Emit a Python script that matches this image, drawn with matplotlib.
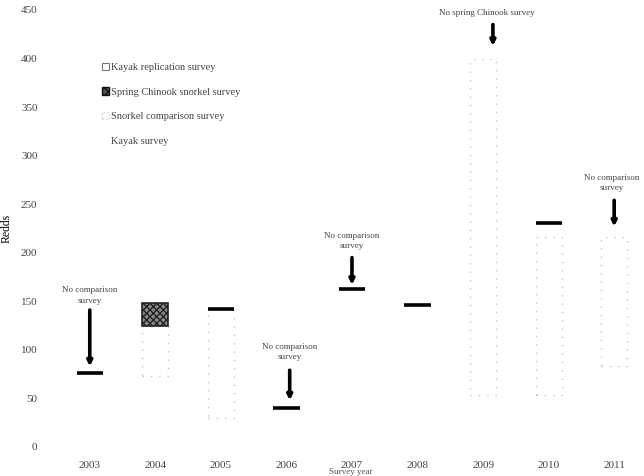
import numpy as np
import matplotlib
matplotlib.use("Agg")
from matplotlib import pyplot as plt
from matplotlib.patches import Patch

plt.rcParams['font.family'] = ['Liberation Serif', 'DejaVu Serif']

years = np.array([2003, 2004, 2005, 2006, 2007, 2008, 2009, 2010, 2011])
# kayak survey counts (nan = not shown)
kayak = np.array([76, np.nan, 142, 40, 163, 146, np.nan, 231, np.nan])
# snorkel comparison survey ranges (low, high)
comp_low = np.array([np.nan, 73, 30, np.nan, np.nan, np.nan, 53, 54, 83])
comp_high = np.array([np.nan, 125, 142, np.nan, np.nan, np.nan, 400, 216, 216])
# spring chinook snorkel survey (2004 only)
chinook_year = [2004]
chinook_low = [125]
chinook_high = [148]

notes = ["No comparison\nsurvey", "No comparison\nsurvey", "No comparison\nsurvey",
         "No spring Chinook survey", "No comparison\nsurvey"]
note_text_xy = [(2003, 156), (2006.05, 98), (2007, 212), (2009.06, 447), (2010.96, 272)]
note_arrow_from = [(2003, 141), (2006.05, 79), (2007, 195), (2009.15, 435), (2011.0, 254)]
note_arrow_to = [(2003, 83), (2006.05, 48), (2007, 167), (2009.15, 413), (2011.0, 227)]

fig = plt.figure(figsize=(6.44, 4.76), dpi=100)
ax = fig.add_axes([0.0885, 0.061, 0.911, 0.918])

w = 0.4
# comparison survey boxes (very faint dotted outlines)
ax.bar(years, comp_high - comp_low, bottom=comp_low, width=w, facecolor='none',
       edgecolor='#c4c4c4', linestyle=(0, (1, 5)), linewidth=1.0)
# spring chinook box
ax.bar(chinook_year, np.subtract(chinook_high, chinook_low), bottom=chinook_low, width=w,
       facecolor='#8a8a8a', edgecolor='#222222', hatch='xxxxx', linewidth=1.2)
# kayak survey lines
ax.hlines(kayak, years - w / 2, years + w / 2, color='black', linewidth=2.6)

for txt, txy, a0, a1 in zip(notes, note_text_xy, note_arrow_from, note_arrow_to):
    ax.text(txy[0], txy[1], txt, ha='center', va='center', fontsize=6.5,
            color='#444444', linespacing=1.4)
    ax.annotate('', xy=a1, xytext=a0,
                arrowprops=dict(arrowstyle='-|>', color='black', lw=2.6,
                                mutation_scale=7, shrinkA=0, shrinkB=0))

ax.set_xlim(2002.5, 2011.45)
ax.set_ylim(0, 450)
ax.set_yticks(np.arange(0, 451, 50))
ax.set_xticks(years)
ax.tick_params(length=0, labelsize=8, labelcolor='#444444')
ax.tick_params(axis='x', pad=10)
ax.tick_params(axis='y', pad=14)
for s in ax.spines.values():
    s.set_visible(False)
ax.set_ylabel('Redds', fontsize=8.5, labelpad=6)
ax.set_xlabel('Survey year', fontsize=6.5, color='#555555', labelpad=-1)

handles = [
    Patch(facecolor='white', edgecolor='#777777', linewidth=0.8),
    Patch(facecolor='#555555', edgecolor='#111111', hatch='xxxx'),
    Patch(facecolor='none', edgecolor='#cccccc', linestyle=':'),
    Patch(facecolor='none', edgecolor='none'),
]
labels = ['Kayak replication survey', 'Spring Chinook snorkel survey',
          'Snorkel comparison survey', 'Kayak survey']
leg = ax.legend(handles, labels, loc='upper left', bbox_to_anchor=(0.06, 0.9),
                frameon=False, fontsize=7.5, handlelength=0.7, handleheight=0.7,
                handletextpad=0.2, labelspacing=1.45)
for t in leg.get_texts():
    t.set_color('#444444')

fig.savefig('out.png', dpi=100)
